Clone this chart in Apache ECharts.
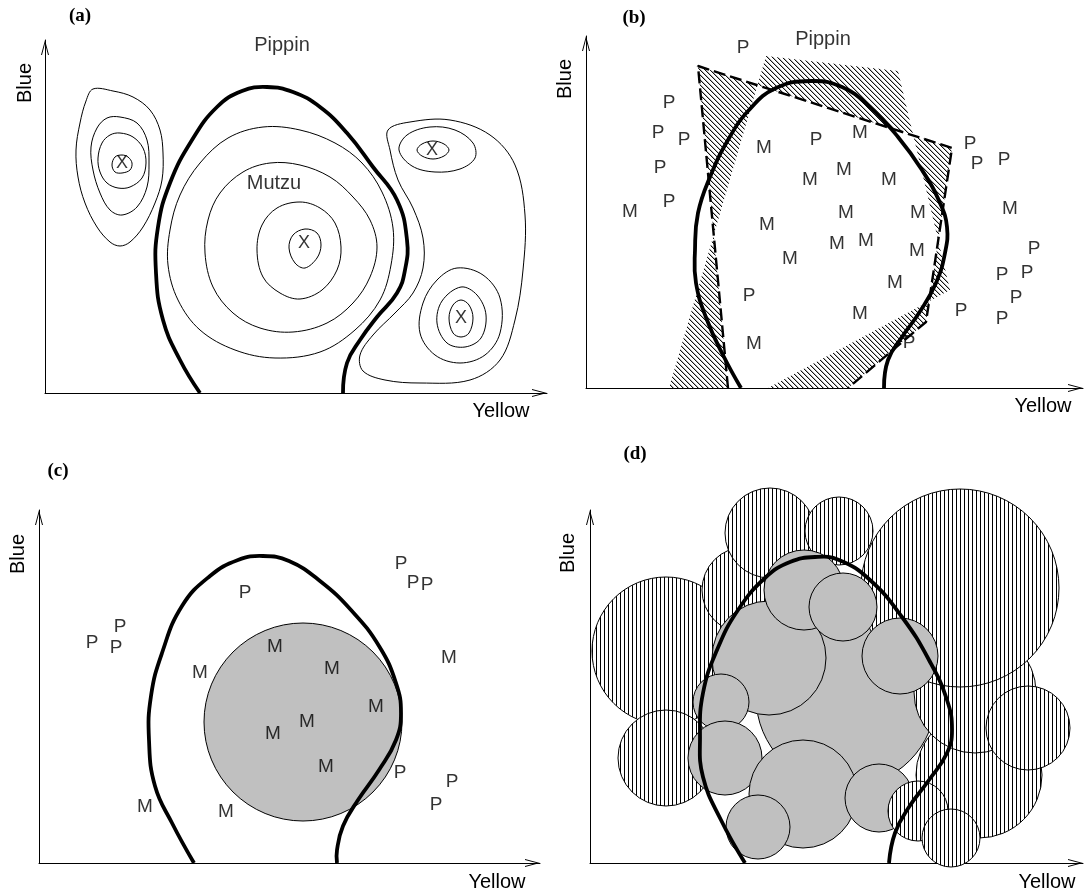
<!DOCTYPE html>
<html>
<head>
<meta charset="utf-8">
<script src="https://cdn.jsdelivr.net/npm/echarts@6.0.0/dist/echarts.min.js"></script>
<style>
  html, body { margin: 0; padding: 0; background: #fff; }
  #chart { width: 1085px; height: 892px; }
</style>
</head>
<body>
<div id="chart"></div>
<script>
// ---------- data (axis units measured from each panel's origin) ----------

// Class boundary between Mutzu (inside) and Pippin (outside); same in all panels
const aBoundary = [[155,0],[135,33],[118,73],[111,120],[113,166],[125,210],[147,253],[172,286],[197,302],[222,306],[248,301],[275,286],[302,260],[328,226],[352,193],[362,153],[360,123],[352,100],[332,76],[315,53],[302,30],[298,0]];
const bBoundary = [[155,0],[138,31],[121,68],[110,105],[109,138],[112,175],[124,211],[142,248],[163,278],[190,300],[225,307],[256,301],[284,281],[312,251],[336,218],[354,185],[361,161],[359,135],[350,105],[333,75],[316,51],[302,28],[298,0]];
const cBoundary = [[155,0],[133,40],[116,77],[110,123],[112,167],[123,210],[143,257],[171,287],[199,303],[224,307],[250,302],[281,282],[312,253],[340,217],[357,180],[362,150],[357,123],[340,93],[319,63],[304,37],[298,13],[298,0]];
const dBoundary = [[155,0],[131,43],[113,86],[110,126],[113,170],[127,213],[148,253],[176,286],[200,301],[225,306],[249,303],[280,283],[312,246],[339,203],[357,163],[362,133],[357,110],[339,83],[319,56],[305,30],[299,0]];

// (a) density contours
const leftOuter = [[48,304],[68,302],[88,296],[105,283],[115,263],[118,240],[117,213],[110,190],[98,166],[85,151],[75,147],[65,151],[52,166],[40,190],[33,216],[31,243],[35,270],[41,292]];
const leftRing3 = [[75,276],[92,270],[102,253],[104,230],[102,206],[92,186],[77,178],[65,183],[55,200],[48,223],[46,246],[52,265],[62,275]];
const leftRing2 = [[75,260],[88,256],[98,245],[101,230],[97,215],[85,206],[73,205],[62,210],[55,221],[53,235],[57,250],[65,258]];
const leftCore = [[77,238],[83,236],[87,230],[85,223],[77,220],[70,221],[67,228],[70,236]];
const midRing4 = [[218,266],[255,263],[290,250],[317,230],[337,201],[348,165],[346,128],[335,93],[310,63],[275,41],[230,35],[190,43],[155,63],[133,93],[123,128],[125,163],[135,198],[155,230],[183,255]];
const midRing3 = [[225,230],[255,228],[285,216],[308,196],[325,173],[332,146],[325,116],[308,90],[282,70],[248,61],[215,65],[188,80],[168,106],[160,140],[163,173],[175,200],[198,221]];
const midRing2 = [[255,191],[275,185],[290,170],[296,146],[292,123],[277,103],[255,94],[235,100],[218,116],[212,143],[217,168],[232,185]];
const midCore = [[260,164],[272,160],[276,148],[272,135],[260,125],[250,130],[244,145],[248,158]];
const rightOuter = [[343,263],[365,271],[405,273],[445,258],[470,228],[480,178],[478,123],[470,73],[455,33],[425,13],[375,10],[340,13],[318,22],[315,38],[328,58],[350,80],[368,100],[378,125],[378,155],[368,185],[353,213],[345,243]];
const rightUpper2 = [[354,243],[362,258],[385,266],[410,263],[428,250],[430,235],[415,224],[390,221],[367,227]];
const rightUpperCore = [[372,243],[377,249],[388,252],[399,249],[404,243],[399,237],[388,234],[377,237]];
const rightLower3 = [[412,125],[438,118],[455,95],[455,60],[440,38],[415,30],[390,38],[375,60],[378,90],[392,113]];
const rightLower2 = [[416,106],[432,98],[441,78],[436,55],[420,46],[402,50],[392,70],[397,92]];
const rightLowerCore = [[416,93],[424,88],[428,75],[424,60],[416,56],[408,60],[404,75],[408,88]];
const aContours = [leftOuter, leftRing3, leftRing2, leftCore, midRing4, midRing3, midRing2, midCore,
  rightOuter, rightUpper2, rightUpperCore, rightLower3, rightLower2, rightLowerCore];
const aPeaks = [[77,230,'X'],[259,150,'X'],[387,243,'X'],[416,75,'X']];
const aNames = [[237,348,'Pippin'],[229,210,'Mutzu']];

// (b) two polygon approximations; their symmetric difference is hatched
const bPolyDashed = [[112,322],[366,240],[340,66],[262,0],[142,0]];
const bPolyOther = [[180,332],[312,317],[364,98],[182,0],[83,0]];
const bDashedPath = [[142,0],[112,322],[366,240],[340,66],[262,0]];
const bSamples = [[157,340,'P'],[83,285,'P'],[72,255,'P'],[98,248,'P'],[74,220,'P'],[83,186,'P'],[44,176,'M'],
  [178,240,'M'],[230,248,'P'],[274,255,'M'],[224,208,'M'],[258,218,'M'],[303,208,'M'],[181,163,'M'],
  [260,175,'M'],[332,175,'M'],[251,144,'M'],[280,147,'M'],[331,137,'M'],[204,129,'M'],[309,105,'M'],
  [163,92,'P'],[274,74,'M'],[168,44,'M'],[323,45,'P'],[375,77,'P'],[384,244,'P'],[391,224,'P'],
  [418,228,'P'],[424,179,'M'],[448,139,'P'],[416,113,'P'],[441,115,'P'],[430,90,'P'],[416,69,'P']];
const bNames = [[237,349,'Pippin']];

// (c) one prototype circle
const cCircle = [[264,141,99]];
const cSamples = [[362,299,'P'],[374,280,'P'],[388,278,'P'],[206,270,'P'],[81,236,'P'],[53,220,'P'],[77,215,'P'],
  [236,216,'M'],[161,190,'M'],[293,194,'M'],[410,205,'M'],[337,156,'M'],[268,141,'M'],[234,129,'M'],
  [287,96,'M'],[361,90,'P'],[413,81,'P'],[397,58,'P'],[106,56,'M'],[187,51,'M']];

// (d) circle cover: 'h' = Pippin (hatched), 'g' = Mutzu (grey); listed bottom to top
const dCircles = [
  [256,166,90,'g'],
  [76,212,74,'h'],[76,105,48,'h'],[155,273,43,'h'],[180,330,45,'h'],[249,332,34,'h'],
  [389,88,63,'h'],[385,171,61,'h'],[370,275,99,'h'],[438,135,42,'h'],
  [179,205,57,'g'],[214,273,40,'g'],[253,256,34,'g'],[310,207,38,'g'],[131,161,28,'g'],
  [135,105,37,'g'],[213,69,54,'g'],[168,36,32,'g'],[289,65,34,'g'],
  [328,52,30,'h'],[361,25,29,'h']
];

// ---------- layout ----------
const panels = [
  { left: 45,  top: 40,  width: 502, height: 353 },
  { left: 586, top: 36,  width: 497, height: 352 },
  { left: 39,  top: 510, width: 501, height: 353 },
  { left: 590, top: 510, width: 493, height: 353 }
];
const ARROW = 'path://M4,0 L8,15 L7,15 L4,3.6 L1,15 L0,15 Z';
const SANS = '"Liberation Sans", Arial, Helvetica, sans-serif';
const SERIF = '"Liberation Serif", "Times New Roman", serif';

// repeating fill tiles: vertical stripes and diagonal hatching
function makeTile(kind) {
  const c = document.createElement('canvas');
  const n = kind === 'vertical' ? 4 : 5;
  c.width = n; c.height = n;
  const g = c.getContext('2d');
  g.fillStyle = '#fff'; g.fillRect(0, 0, n, n);
  if (kind === 'vertical') {
    g.fillStyle = '#000'; g.fillRect(0, 0, 1, n);
  } else {
    for (let i = 0; i < n; i++) {
      g.fillStyle = '#111'; g.fillRect(i, i, 1, 1);
      g.fillStyle = '#b4b4b4'; g.fillRect((i + 1) % n, i, 1, 1);
    }
  }
  return c;
}
const vTile = makeTile('vertical');
const dTile = makeTile('diagonal');

function axis(i, max) {
  return {
    type: 'value', gridIndex: i, min: 0, max: max,
    axisLine: { show: true, onZero: false, lineStyle: { color: '#000', width: 1 },
      symbol: ['none', ARROW], symbolSize: [8, 15], symbolOffset: [0, -7.5] },
    axisTick: { show: false }, axisLabel: { show: false }, splitLine: { show: false }
  };
}

// thick smooth class boundary
function boundarySeries(i, pts) {
  return { type: 'custom', xAxisIndex: i, yAxisIndex: i, silent: true, z: 4,
    data: [[pts[0][0], pts[0][1]]],
    renderItem: function (params, api) {
      return { type: 'polyline', shape: { points: pts.map(p => api.coord(p)), smooth: 0.45 },
        style: { fill: 'none', stroke: '#000', lineWidth: 3.8, lineJoin: 'round' } };
    } };
}

function textSeries(i, items, size) {
  return { type: 'scatter', xAxisIndex: i, yAxisIndex: i, silent: true, z: 6,
    symbolSize: 1, itemStyle: { color: 'rgba(0,0,0,0)' },
    data: items.map(t => ({ value: [t[0], t[1]], name: t[2] })),
    label: { show: true, position: 'inside', formatter: '{b}', color: '#000',
      fontSize: size, fontFamily: SANS } };
}

function textEl(t, x, y, font, rot) {
  return { type: 'text', x: x, y: y, rotation: rot || 0, silent: true,
    style: { text: t, font: font, fill: '#000', align: 'center', verticalAlign: 'middle',
      textAlign: 'center', textVerticalAlign: 'middle' } };
}

const chart = echarts.init(document.getElementById('chart'), null, { renderer: 'canvas' });

const option = {
  animation: false,
  backgroundColor: '#fff',
  grid: panels.map(p => Object.assign({ containLabel: false }, p)),
  xAxis: panels.map((p, i) => axis(i, p.width)),
  yAxis: panels.map((p, i) => axis(i, p.height)),
  graphic: { elements: [
    textEl('(a)', 80, 16, 'bold 19px ' + SERIF),
    textEl('(b)', 634, 18, 'bold 19px ' + SERIF),
    textEl('(c)', 58, 471, 'bold 19px ' + SERIF),
    textEl('(d)', 635, 454, 'bold 19px ' + SERIF),
    textEl('Blue', 25, 83, '20px ' + SANS, Math.PI / 2),
    textEl('Blue', 565, 79, '20px ' + SANS, Math.PI / 2),
    textEl('Blue', 18, 554, '20px ' + SANS, Math.PI / 2),
    textEl('Blue', 568, 553, '20px ' + SANS, Math.PI / 2),
    textEl('Yellow', 501, 411, '20px ' + SANS),
    textEl('Yellow', 1043, 406, '20px ' + SANS),
    textEl('Yellow', 497, 882, '20px ' + SANS),
    textEl('Yellow', 1047, 882, '20px ' + SANS)
  ] },
  series: [
    // (a) contours of the two class densities
    { type: 'custom', xAxisIndex: 0, yAxisIndex: 0, silent: true, z: 3,
      data: aContours.map((c, k) => [k, 0]),
      renderItem: function (params, api) {
        const pts = aContours[params.dataIndex].map(p => api.coord(p));
        return { type: 'polygon', shape: { points: pts, smooth: 0.35 },
          style: { fill: 'none', stroke: '#000', lineWidth: 1 } };
      } },
    boundarySeries(0, aBoundary),
    textSeries(0, aPeaks, 18),
    textSeries(0, aNames, 20),

    // (b) hatched difference of the two polygons
    { type: 'custom', xAxisIndex: 1, yAxisIndex: 1, silent: true, z: 2,
      data: [[0, 0]],
      renderItem: function (params, api) {
        const a = bPolyDashed.map(p => api.coord(p));
        const b = bPolyOther.map(p => api.coord(p)).reverse();
        const all = a.concat(b);
        const xs = all.map(p => p[0]), ys = all.map(p => p[1]);
        const x0 = Math.min.apply(null, xs), x1 = Math.max.apply(null, xs);
        const y0 = Math.min.apply(null, ys), y1 = Math.max.apply(null, ys);
        const ring = r => 'M' + r.map(p => p[0].toFixed(2) + ' ' + p[1].toFixed(2)).join(' L') + ' Z';
        return { type: 'path',
          shape: { pathData: ring(a) + ' ' + ring(b), x: x0, y: y0, width: x1 - x0, height: y1 - y0, layout: 'cover' },
          style: { fill: { image: dTile, repeat: 'repeat' }, stroke: 'none' } };
      } },
    { type: 'line', xAxisIndex: 1, yAxisIndex: 1, data: bDashedPath, symbol: 'none', silent: true,
      clip: false, z: 3, lineStyle: { color: '#000', width: 2.4, type: [12, 5] } },
    boundarySeries(1, bBoundary),
    textSeries(1, bSamples, 19),
    textSeries(1, bNames, 20),

    // (c) single grey circle
    { type: 'custom', xAxisIndex: 2, yAxisIndex: 2, silent: true, z: 2,
      data: cCircle.map(c => [c[0], c[1]]),
      renderItem: function (params, api) {
        const c = cCircle[params.dataIndex];
        const p = api.coord([c[0], c[1]]);
        const r = api.size([c[2], c[2]])[0];
        return { type: 'circle', shape: { cx: p[0], cy: p[1], r: r },
          style: { fill: '#c0c0c0', stroke: '#000', lineWidth: 1 } };
      } },
    boundarySeries(2, cBoundary),
    textSeries(2, cSamples, 19),

    // (d) covering circles
    { type: 'custom', xAxisIndex: 3, yAxisIndex: 3, silent: true, z: 2,
      data: dCircles.map(c => [c[0], c[1]]),
      renderItem: function (params, api) {
        const c = dCircles[params.dataIndex];
        const p = api.coord([c[0], c[1]]);
        const r = api.size([c[2], c[2]])[0];
        return { type: 'circle', shape: { cx: p[0], cy: p[1], r: r },
          style: { fill: c[3] === 'h' ? { image: vTile, repeat: 'repeat' } : '#c0c0c0',
            stroke: '#000', lineWidth: 1 } };
      } },
    boundarySeries(3, dBoundary)
  ]
};
chart.setOption(option);
</script>
</body>
</html>
